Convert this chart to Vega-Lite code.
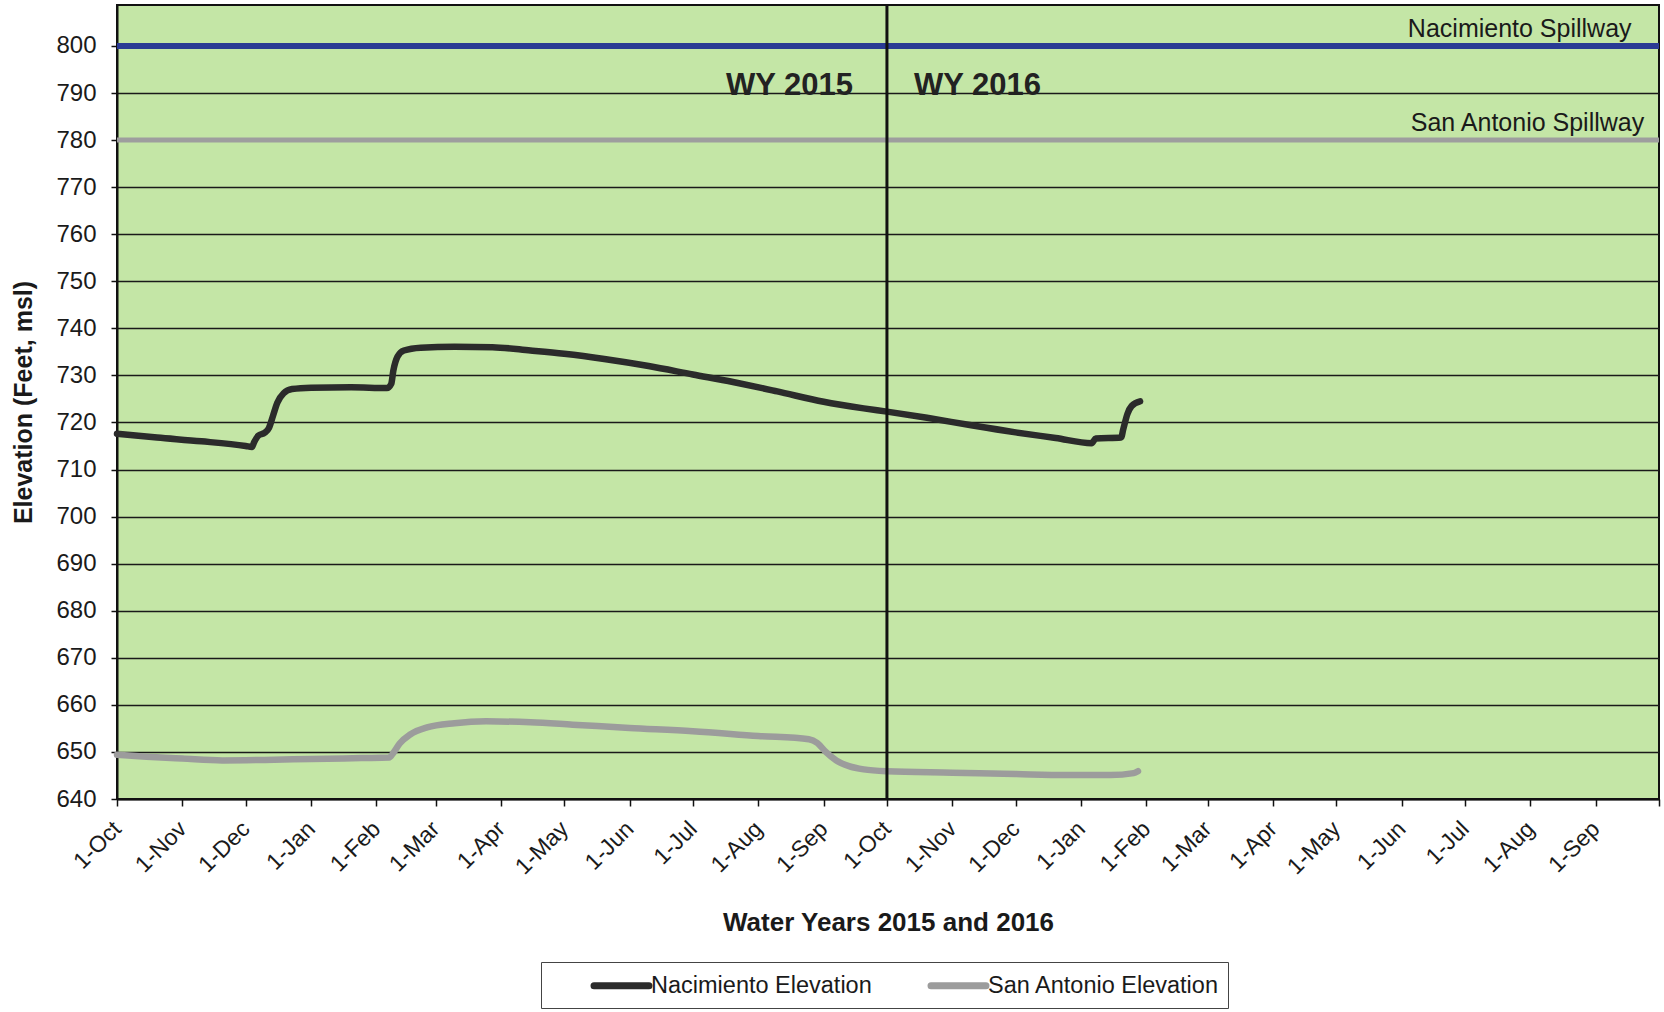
{
  "$schema": "https://vega.github.io/schema/vega-lite/v6.json",
  "width": 1542,
  "height": 794,
  "autosize": {"type": "none"},
  "padding": {"left": 117, "top": 5, "right": 5, "bottom": 213},
  "background": "white",
  "config": {
    "font": "Liberation Sans",
    "view": {"fill": "#c4e6a6", "stroke": "#111111", "strokeWidth": 2},
    "axis": {"labelColor": "#1a1a1a", "titleColor": "#1a1a1a", "domainColor": "#111111", "tickColor": "#111111"}
  },
  "data": {"values": [{}]},
  "datasets": {
    "elev": [
      {"date": "2014-10-01", "value": 717.6, "series": "Nacimiento Elevation"},
      {"date": "2014-10-20", "value": 716.8, "series": "Nacimiento Elevation"},
      {"date": "2014-11-10", "value": 716.0, "series": "Nacimiento Elevation"},
      {"date": "2014-12-01", "value": 715.0, "series": "Nacimiento Elevation"},
      {"date": "2014-12-04", "value": 714.8, "series": "Nacimiento Elevation"},
      {"date": "2014-12-05", "value": 715.8, "series": "Nacimiento Elevation"},
      {"date": "2014-12-07", "value": 717.2, "series": "Nacimiento Elevation"},
      {"date": "2014-12-10", "value": 717.8, "series": "Nacimiento Elevation"},
      {"date": "2014-12-12", "value": 718.8, "series": "Nacimiento Elevation"},
      {"date": "2014-12-14", "value": 721.5, "series": "Nacimiento Elevation"},
      {"date": "2014-12-16", "value": 724.2, "series": "Nacimiento Elevation"},
      {"date": "2014-12-19", "value": 726.2, "series": "Nacimiento Elevation"},
      {"date": "2014-12-23", "value": 727.1, "series": "Nacimiento Elevation"},
      {"date": "2015-01-01", "value": 727.4, "series": "Nacimiento Elevation"},
      {"date": "2015-01-20", "value": 727.5, "series": "Nacimiento Elevation"},
      {"date": "2015-02-06", "value": 727.3, "series": "Nacimiento Elevation"},
      {"date": "2015-02-08", "value": 728.2, "series": "Nacimiento Elevation"},
      {"date": "2015-02-09", "value": 731.0, "series": "Nacimiento Elevation"},
      {"date": "2015-02-11", "value": 734.0, "series": "Nacimiento Elevation"},
      {"date": "2015-02-14", "value": 735.3, "series": "Nacimiento Elevation"},
      {"date": "2015-02-22", "value": 735.9, "series": "Nacimiento Elevation"},
      {"date": "2015-03-10", "value": 736.1, "series": "Nacimiento Elevation"},
      {"date": "2015-03-28", "value": 736.0, "series": "Nacimiento Elevation"},
      {"date": "2015-04-15", "value": 735.3, "series": "Nacimiento Elevation"},
      {"date": "2015-05-01", "value": 734.6, "series": "Nacimiento Elevation"},
      {"date": "2015-05-20", "value": 733.5, "series": "Nacimiento Elevation"},
      {"date": "2015-06-10", "value": 732.0, "series": "Nacimiento Elevation"},
      {"date": "2015-07-01", "value": 730.2, "series": "Nacimiento Elevation"},
      {"date": "2015-07-20", "value": 728.6, "series": "Nacimiento Elevation"},
      {"date": "2015-08-10", "value": 726.6, "series": "Nacimiento Elevation"},
      {"date": "2015-09-01", "value": 724.4, "series": "Nacimiento Elevation"},
      {"date": "2015-09-20", "value": 723.0, "series": "Nacimiento Elevation"},
      {"date": "2015-10-01", "value": 722.3, "series": "Nacimiento Elevation"},
      {"date": "2015-10-20", "value": 721.0, "series": "Nacimiento Elevation"},
      {"date": "2015-11-10", "value": 719.4, "series": "Nacimiento Elevation"},
      {"date": "2015-12-01", "value": 717.9, "series": "Nacimiento Elevation"},
      {"date": "2015-12-20", "value": 716.7, "series": "Nacimiento Elevation"},
      {"date": "2016-01-06", "value": 715.6, "series": "Nacimiento Elevation"},
      {"date": "2016-01-08", "value": 716.6, "series": "Nacimiento Elevation"},
      {"date": "2016-01-20", "value": 716.8, "series": "Nacimiento Elevation"},
      {"date": "2016-01-21", "value": 718.5, "series": "Nacimiento Elevation"},
      {"date": "2016-01-23", "value": 721.8, "series": "Nacimiento Elevation"},
      {"date": "2016-01-25", "value": 723.5, "series": "Nacimiento Elevation"},
      {"date": "2016-01-29", "value": 724.5, "series": "Nacimiento Elevation"},
      {"date": "2014-10-01", "value": 649.4, "series": "San Antonio Elevation"},
      {"date": "2014-10-15", "value": 649.0, "series": "San Antonio Elevation"},
      {"date": "2014-11-01", "value": 648.6, "series": "San Antonio Elevation"},
      {"date": "2014-11-20", "value": 648.2, "series": "San Antonio Elevation"},
      {"date": "2014-12-10", "value": 648.3, "series": "San Antonio Elevation"},
      {"date": "2015-01-01", "value": 648.5, "series": "San Antonio Elevation"},
      {"date": "2015-01-25", "value": 648.7, "series": "San Antonio Elevation"},
      {"date": "2015-02-07", "value": 648.8, "series": "San Antonio Elevation"},
      {"date": "2015-02-09", "value": 649.8, "series": "San Antonio Elevation"},
      {"date": "2015-02-12", "value": 651.8, "series": "San Antonio Elevation"},
      {"date": "2015-02-17", "value": 653.7, "series": "San Antonio Elevation"},
      {"date": "2015-02-25", "value": 655.2, "series": "San Antonio Elevation"},
      {"date": "2015-03-10", "value": 656.1, "series": "San Antonio Elevation"},
      {"date": "2015-03-25", "value": 656.5, "series": "San Antonio Elevation"},
      {"date": "2015-04-15", "value": 656.3, "series": "San Antonio Elevation"},
      {"date": "2015-05-05", "value": 655.8, "series": "San Antonio Elevation"},
      {"date": "2015-06-01", "value": 655.1, "series": "San Antonio Elevation"},
      {"date": "2015-07-01", "value": 654.4, "series": "San Antonio Elevation"},
      {"date": "2015-08-01", "value": 653.4, "series": "San Antonio Elevation"},
      {"date": "2015-08-25", "value": 652.7, "series": "San Antonio Elevation"},
      {"date": "2015-08-29", "value": 651.9, "series": "San Antonio Elevation"},
      {"date": "2015-09-02", "value": 650.0, "series": "San Antonio Elevation"},
      {"date": "2015-09-07", "value": 648.2, "series": "San Antonio Elevation"},
      {"date": "2015-09-13", "value": 647.0, "series": "San Antonio Elevation"},
      {"date": "2015-09-20", "value": 646.3, "series": "San Antonio Elevation"},
      {"date": "2015-10-01", "value": 645.9, "series": "San Antonio Elevation"},
      {"date": "2015-11-01", "value": 645.6, "series": "San Antonio Elevation"},
      {"date": "2015-12-01", "value": 645.3, "series": "San Antonio Elevation"},
      {"date": "2015-12-25", "value": 645.1, "series": "San Antonio Elevation"},
      {"date": "2016-01-15", "value": 645.1, "series": "San Antonio Elevation"},
      {"date": "2016-01-26", "value": 645.5, "series": "San Antonio Elevation"},
      {"date": "2016-01-28", "value": 645.9, "series": "San Antonio Elevation"}
    ]
  },
  "layer": [
    {
      "mark": {"type": "rule", "color": "#2a3b94", "strokeWidth": 6},
      "encoding": {"y": {"datum": 800, "type": "quantitative"}}
    },
    {
      "mark": {"type": "rule", "color": "#9e9e9e", "strokeWidth": 5},
      "encoding": {"y": {"datum": 780, "type": "quantitative"}}
    },
    {
      "data": {"name": "elev"},
      "mark": {"type": "line", "strokeWidth": 6.5, "strokeCap": "round", "strokeJoin": "round", "interpolate": "monotone"},
      "encoding": {
        "x": {
          "field": "date", "type": "temporal",
          "scale": {"type": "utc", "domain": [{"year": 2014, "month": 10, "date": 1, "utc": true}, {"year": 2016, "month": 10, "date": 1, "utc": true}], "nice": false},
          "axis": {
            "title": "Water Years 2015 and 2016", "titleFontSize": 26, "titleFontWeight": "bold", "titlePadding": 31,
            "format": "%-d-%b", "labelAngle": -45, "labelAlign": "right", "labelBaseline": "middle", "labelFontSize": 23, "labelPadding": 19,
            "labelOverlap": false, "labelFlush": false, "labelBound": false,
            "labelExpr": "datum.value > utc(2016, 8, 15) ? '' : datum.label",
            "tickCount": {"interval": "month", "step": 1},
            "grid": false, "domainWidth": 2, "tickSize": 7, "tickWidth": 1.5
          }
        },
        "y": {
          "field": "value", "type": "quantitative",
          "scale": {"domain": [640, 808.7], "nice": false, "zero": false},
          "axis": {
            "title": "Elevation (Feet, msl)", "titleFontSize": 25, "titleFontWeight": "bold", "titlePadding": 19,
            "values": [640, 650, 660, 670, 680, 690, 700, 710, 720, 730, 740, 750, 760, 770, 780, 790, 800],
            "labelFontSize": 24, "labelPadding": 15, "tickSize": 6, "tickWidth": 1.5,
            "grid": true, "gridColor": "#1a1a1a", "gridWidth": 1.4, "domainWidth": 2
          }
        },
        "color": {
          "field": "series", "type": "nominal",
          "scale": {"domain": ["Nacimiento Elevation", "San Antonio Elevation"], "range": ["#2b2b2b", "#9c9c9c"]},
          "legend": {
            "title": null, "orient": "none", "legendX": 424, "legendY": 957, "direction": "horizontal",
            "symbolType": "M-2.29,0H2.29", "symbolStrokeWidth": 7, "symbolSize": 576, "symbolOffset": 57,
            "labelFontSize": 23.5, "labelLimit": 400, "labelColor": "#1a1a1a", "labelOffset": 14, "columnPadding": 14,
            "strokeColor": "#444444", "fillColor": "white", "padding": 8,
            "encode": {"symbols": {"update": {"strokeCap": {"value": "round"}}}}
          }
        }
      }
    },
    {
      "mark": {"type": "text", "text": "Nacimiento Spillway", "align": "right", "baseline": "middle", "fontSize": 25, "color": "#1a1a1a"},
      "encoding": {
        "x": {"datum": {"year": 2016, "month": 9, "date": 18, "utc": true}, "type": "temporal"},
        "y": {"datum": 803.6, "type": "quantitative"}
      }
    },
    {
      "mark": {"type": "text", "text": "San Antonio Spillway", "align": "right", "baseline": "middle", "fontSize": 25, "color": "#1a1a1a"},
      "encoding": {
        "x": {"datum": {"year": 2016, "month": 9, "date": 24, "utc": true}, "type": "temporal"},
        "y": {"datum": 783.6, "type": "quantitative"}
      }
    },
    {
      "mark": {"type": "text", "text": "WY 2015", "align": "right", "baseline": "middle", "fontSize": 31, "fontWeight": "bold", "color": "#222222", "dx": -34},
      "encoding": {
        "x": {"datum": {"year": 2015, "month": 10, "date": 1, "utc": true}, "type": "temporal"},
        "y": {"datum": 791.5, "type": "quantitative"}
      }
    },
    {
      "mark": {"type": "text", "text": "WY 2016", "align": "left", "baseline": "middle", "fontSize": 31, "fontWeight": "bold", "color": "#222222", "dx": 27},
      "encoding": {
        "x": {"datum": {"year": 2015, "month": 10, "date": 1, "utc": true}, "type": "temporal"},
        "y": {"datum": 791.5, "type": "quantitative"}
      }
    },
    {
      "mark": {"type": "rule", "color": "#111111", "strokeWidth": 3},
      "encoding": {"x": {"datum": {"year": 2015, "month": 10, "date": 1, "utc": true}, "type": "temporal"}}
    }
  ]
}
